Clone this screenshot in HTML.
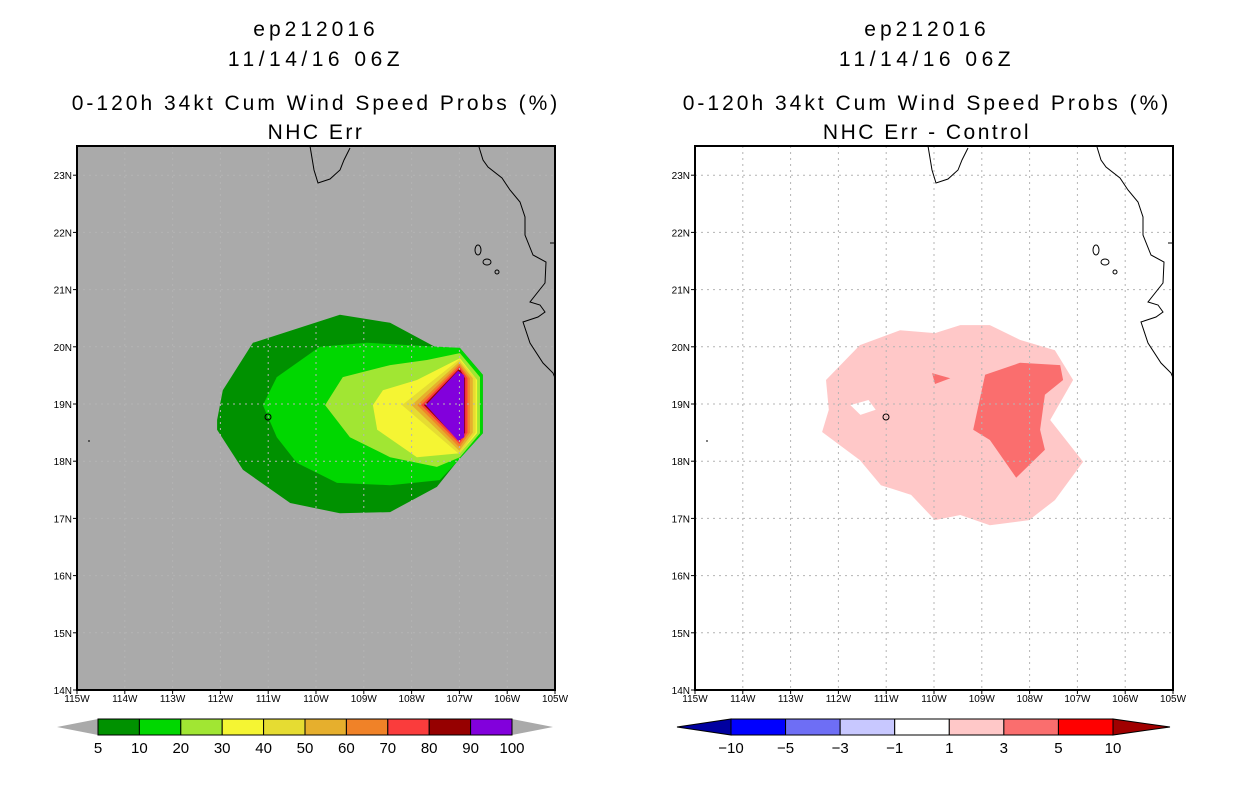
<!DOCTYPE html>
<html><head><meta charset="utf-8">
<style>
html,body{margin:0;padding:0;background:#fff;width:1236px;height:800px;overflow:hidden}
svg{display:block;font-family:"Liberation Sans",sans-serif}
</style></head>
<body>
<svg id="chart" width="1236" height="800" viewBox="0 0 1236 800">
</svg>
<script>
// ---- data (lon in degrees West, lat in degrees North) ----
const lonTicks=[115,114,113,112,111,110,109,108,107,106,105];
const latTicks=[14,15,16,17,18,19,20,21,22,23];
const leftLevels=[5,10,20,30,40,50,60,70,80,90,100];
const leftColors=["#009100","#00d700","#a1e633","#f5f533","#e6dc32","#e6af2d","#f08228","#fa3c3c","#960000","#8200dc"];
const rightLevels=[-10,-5,-3,-1,1,3,5,10];
const rightColors=["#0000a0","#0000ff","#6e6ef5","#c8c8ff","#ffffff","#ffc8c8","#fa6e6e","#ff0000","#a00000"];
const p5=[[112.07,18.72],[111.95,19.24],[111.32,20.07],[109.5,20.56],[108.45,20.42],[107.47,19.98],[106.99,19.98],[106.51,19.51],[106.51,18.49],[107.05,17.99],[107.47,17.55],[108.45,17.11],[109.5,17.09],[110.54,17.27],[111.53,17.85],[112.07,18.55]];
const p10=[[111.11,18.98],[110.82,19.47],[109.92,20.0],[108.93,20.07],[106.99,19.98],[106.51,19.51],[106.51,18.49],[107.05,17.99],[107.41,17.67],[108.45,17.58],[109.56,17.62],[110.4,17.97],[110.82,18.42]];
const p20=[[109.81,18.98],[109.44,19.47],[108.45,19.68],[107.68,19.77],[106.99,19.89],[106.57,19.47],[106.57,18.49],[106.99,18.07],[107.47,17.9],[108.45,18.07],[109.29,18.42]];
const p30=[[108.81,18.98],[108.6,19.24],[107.89,19.42],[106.99,19.8],[106.63,19.42],[106.63,18.49],[106.99,18.14],[107.89,18.07],[108.72,18.55]];
const p40=[[108.2,18.98],[107.0,19.78],[106.66,19.45],[106.66,18.5],[107.0,18.12]];
const p50=[[108.0,18.98],[107.0,19.74],[106.72,19.45],[106.72,18.5],[107.0,18.18]];
const p60=[[107.88,18.98],[107.0,19.7],[106.78,19.45],[106.78,18.5],[107.0,18.24]];
const p70=[[107.8,18.98],[107.0,19.66],[106.83,19.45],[106.83,18.5],[107.0,18.3]];
const p80=[[107.74,18.98],[107.0,19.62],[106.88,19.45],[106.88,18.5],[107.0,18.35]];
const p90=[[107.7,18.98],[107.03,19.58],[106.9,19.5],[106.9,18.42],[107.03,18.36]];
const p100=[[107.62,18.98],[107.03,19.54],[106.92,19.51],[106.92,18.43],[107.03,18.41]];
const leftPolys=[p5,p10,p20,p30,p40,p50,p60,p70,p80,p90,p100];
const d1=[[112.26,19.42],[111.55,20.03],[110.71,20.29],[109.98,20.24],[109.45,20.38],[108.83,20.38],[108.2,20.12],[107.47,19.94],[107.09,19.42],[107.57,18.72],[106.88,17.99],[107.47,17.32],[108.01,16.97],[108.83,16.88],[109.45,17.06],[109.98,16.97],[110.48,17.41],[111.11,17.58],[111.55,18.02],[112.34,18.51],[112.2,18.9]];
const d1hole=[[111.75,18.98],[111.37,19.07],[111.22,18.9],[111.54,18.81]];
const d3=[[108.93,19.51],[108.2,19.72],[107.36,19.68],[107.3,19.42],[107.68,19.16],[107.78,18.55],[107.68,18.2],[108.28,17.71],[108.83,18.37],[109.18,18.55]];
const d3b=[[110.04,19.54],[109.66,19.45],[109.98,19.35]];

const NS="http://www.w3.org/2000/svg";
const svg=document.getElementById('chart');
function mk(tag,attrs,parent){const e=document.createElementNS(NS,tag);for(const k in attrs)e.setAttribute(k,attrs[k]);(parent||svg).appendChild(e);return e;}
const PW=478,PT=146,PB=690;
function xs(x0){return w=>x0+(115-w)/10*PW;}
function ys(l){return 690-(l-14)*57.2;}
function ptsStr(p,X){return p.map(q=>X(q[0]).toFixed(1)+","+ys(q[1]).toFixed(1)).join(" ");}

function panel(x0,bg,label2,drawFill,cx){
  const X=xs(x0);
  const g=mk('g',{});
  
  
  const t=[["ep212016",36,4],["11/14/16 06Z",66,4.5],["0-120h 34kt Cum Wind Speed Probs (%)",110,3],[label2,139,2.5]];
  t.forEach((s,i)=>{const e=mk('text',{x:cx,y:s[1],'text-anchor':'middle','font-size':21,fill:'#000','letter-spacing':s[2]},g);e.textContent=s[0];
    
    });
  const r=mk('rect',{x:x0,y:PT,width:PW,height:PB-PT,fill:bg},g);
  
  
  drawFill(g,X);
  lonTicks.slice(1,-1).forEach(w=>{const l=mk('line',{x1:X(w),x2:X(w),y1:PT,y2:PB,stroke:'#b4b4b4','stroke-dasharray':'2,4'},g);
    
    });
  latTicks.slice(1).forEach(a=>{const l=mk('line',{x1:x0,x2:x0+PW,y1:ys(a),y2:ys(a),stroke:'#b4b4b4','stroke-dasharray':'2,4'},g);
    
    });
  const cp=[[310,146],[314,170],[318,183],[330,179],[340,170],[344,160],[350,148]];
  const cp2=[[479,147],[483,160],[488,167],[502,178],[510,190],[520,202],[525,217],[525,235],[533,255],[546,262],[545,283],[530,302],[540,305],[545,312],[538,317],[523,322],[530,343],[543,363],[553,373],[555,378]];
  const off=x0-77;
  [cp,cp2].forEach(c=>{const p=mk('polyline',{points:c.map(q=>(q[0]+off)+","+q[1]).join(" "),fill:'none',stroke:'#000','stroke-width':1},g);
    
    });
  [[478,250,3,5],[487,262,4,3],[497,272,2,2],[268,417,3,3]].forEach(c=>{const e=mk('ellipse',{cx:c[0]+off,cy:c[1],rx:c[2],ry:c[3],fill:'none',stroke:'#000'},g);
    
    });
  mk('line',{x1:550+off,x2:555+off,y1:243,y2:243,stroke:'#000'},g);
  mk('line',{x1:88+off,x2:90+off,y1:441,y2:441,stroke:'#000'},g);
  const fr=mk('rect',{x:x0,y:PT,width:PW,height:PB-PT,fill:'none',stroke:'#000','stroke-width':2},g);
  
  
  lonTicks.forEach(w=>{mk('line',{x1:X(w),x2:X(w),y1:PB,y2:PB+4,stroke:'#000'},g);
    const e=mk('text',{x:X(w),y:PB+12,'text-anchor':'middle','font-size':10},g);e.textContent=w+"W";
    
    });
  latTicks.forEach(a=>{mk('line',{x1:x0-4,x2:x0,y1:ys(a),y2:ys(a),stroke:'#000'},g);
    const e=mk('text',{x:x0-5,y:ys(a)+4,'text-anchor':'end','font-size':10},g);e.textContent=a+"N";
    
    });
}

panel(77,'#aaaaaa','NHC Err',(g,X)=>{
  leftPolys.forEach((p,i)=>{const e=mk('polygon',{points:ptsStr(p,X),fill:leftColors[Math.min(i,9)]},g);
    
    });
},316);
panel(695,'#ffffff','NHC Err - Control',(g,X)=>{
  const e=mk('path',{d:'M'+ptsStr(d1,X)+'Z M'+ptsStr(d1hole,X)+'Z',fill:rightColors[5],'fill-rule':'evenodd'},g);
  
  
  [d3,d3b].forEach(p=>{const f=mk('polygon',{points:ptsStr(p,X),fill:rightColors[6]},g);
    
    });
},927);

function colorbar(x0,x1,tl,tr,levels,colors,hasEndColors){
  const g=mk('g',{});
  
  
  const y0=719,y1=735,ym=727;
  const n=hasEndColors?colors.length-2:colors.length;
  const w=(x1-x0)/n;
  const lc=hasEndColors?colors[0]:'#aaaaaa', rc=hasEndColors?colors[colors.length-1]:'#aaaaaa';
  const a=mk('polygon',{points:`${tl},${ym} ${x0},${y0} ${x0},${y1}`,fill:lc,stroke:hasEndColors?'#000':'none'},g);
  
  
  const b=mk('polygon',{points:`${tr},${ym} ${x1},${y0} ${x1},${y1}`,fill:rc,stroke:hasEndColors?'#000':'none'},g);
  
  
  for(let i=0;i<n;i++){const r=mk('rect',{x:x0+i*w,y:y0,width:w,height:y1-y0,fill:colors[hasEndColors?i+1:i],stroke:'#000'},g);
    
    }
  levels.forEach((v,i)=>{const t=mk('text',{x:x0+i*w,y:753,'text-anchor':'middle','font-size':15},g);t.textContent=v<0?'\u2212'+(-v):v;
    
    });
}
colorbar(98,512,57,553,leftLevels,leftColors,false);
colorbar(731,1113,677,1170,rightLevels,rightColors,true);
</script>
</body></html>
